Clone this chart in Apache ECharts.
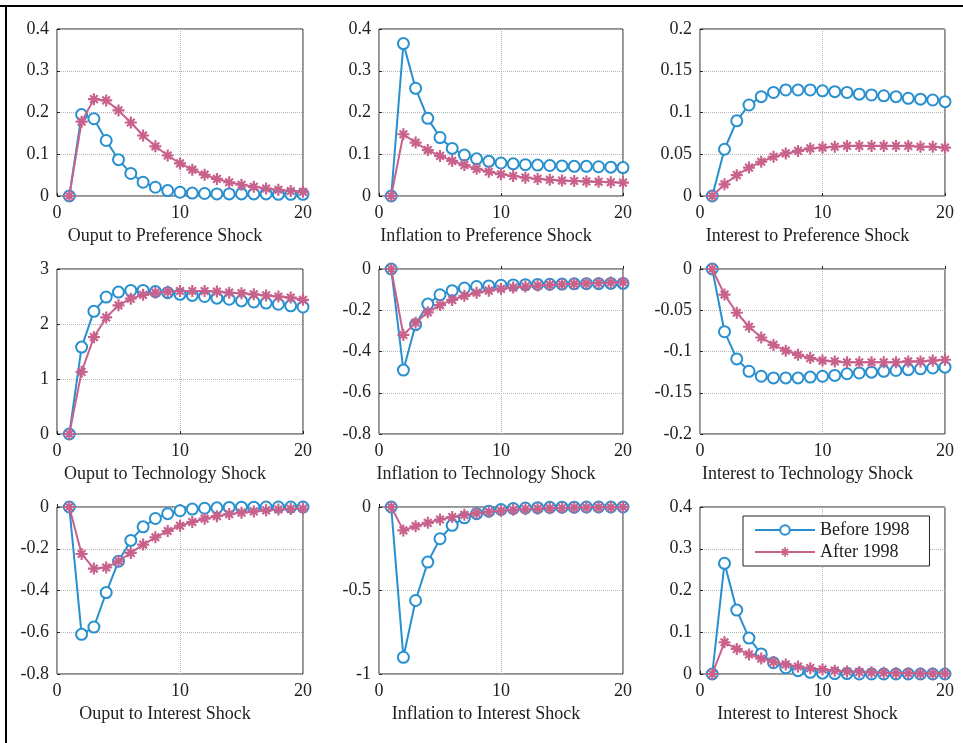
<!DOCTYPE html>
<html>
<head>
<meta charset="utf-8">
<script src="https://cdn.jsdelivr.net/npm/echarts@6/dist/echarts.min.js"></script>
<style>
  html, body { margin: 0; padding: 0; background: #fff; }
  #main { width: 963px; height: 743px; }
</style>
</head>
<body>
<div id="main"></div>
<script>
// horizon 1..20
var steps = [1,2,3,4,5,6,7,8,9,10,11,12,13,14,15,16,17,18,19,20];

// Before 1998 (blue circles)
var outPrefBefore  = [0,0.195,0.185,0.133,0.087,0.054,0.033,0.021,0.013,0.009,0.007,0.006,0.005,0.005,0.005,0.005,0.005,0.004,0.004,0.004];
var inflPrefBefore = [0,0.365,0.258,0.186,0.140,0.114,0.098,0.089,0.083,0.079,0.077,0.075,0.074,0.073,0.072,0.071,0.071,0.070,0.069,0.068];
var intPrefBefore  = [0,0.056,0.090,0.109,0.119,0.124,0.127,0.127,0.127,0.126,0.125,0.124,0.122,0.121,0.120,0.119,0.117,0.116,0.115,0.113];
var outTechBefore  = [0,1.58,2.23,2.49,2.58,2.61,2.61,2.59,2.57,2.54,2.52,2.50,2.47,2.45,2.42,2.40,2.38,2.36,2.33,2.31];
var inflTechBefore = [0,-0.49,-0.27,-0.17,-0.125,-0.105,-0.092,-0.085,-0.082,-0.079,-0.077,-0.076,-0.075,-0.074,-0.073,-0.072,-0.071,-0.071,-0.070,-0.070];
var intTechBefore  = [0,-0.076,-0.109,-0.124,-0.130,-0.132,-0.132,-0.132,-0.131,-0.130,-0.129,-0.127,-0.126,-0.125,-0.124,-0.123,-0.122,-0.121,-0.120,-0.119];
var outIntBefore   = [0,-0.61,-0.575,-0.41,-0.26,-0.16,-0.095,-0.055,-0.032,-0.018,-0.010,-0.006,-0.004,-0.002,-0.001,-0.001,0,0,0,0];
var inflIntBefore  = [0,-0.90,-0.56,-0.33,-0.19,-0.11,-0.065,-0.040,-0.025,-0.015,-0.009,-0.006,-0.004,-0.002,-0.001,-0.001,0,0,0,0];
var intIntBefore   = [0,0.265,0.153,0.086,0.048,0.027,0.015,0.008,0.004,0.002,0.001,0.001,0,0,0,0,0,0,0,0];

// After 1998 (pink asterisks)
var outPrefAfter  = [0,0.178,0.232,0.229,0.205,0.176,0.145,0.119,0.097,0.078,0.063,0.051,0.041,0.033,0.027,0.022,0.018,0.015,0.012,0.010];
var inflPrefAfter = [0,0.148,0.128,0.110,0.096,0.084,0.074,0.065,0.058,0.052,0.048,0.044,0.041,0.039,0.037,0.036,0.035,0.034,0.033,0.032];
var intPrefAfter  = [0,0.014,0.025,0.034,0.041,0.047,0.051,0.054,0.057,0.058,0.059,0.060,0.060,0.060,0.060,0.060,0.060,0.059,0.059,0.058];
var outTechAfter  = [0,1.13,1.76,2.12,2.34,2.46,2.53,2.57,2.59,2.60,2.60,2.60,2.59,2.57,2.56,2.54,2.52,2.50,2.48,2.44];
var inflTechAfter = [0,-0.32,-0.26,-0.21,-0.175,-0.15,-0.13,-0.115,-0.105,-0.096,-0.090,-0.085,-0.080,-0.077,-0.074,-0.072,-0.070,-0.068,-0.066,-0.065];
var intTechAfter  = [0,-0.031,-0.053,-0.070,-0.083,-0.092,-0.099,-0.104,-0.108,-0.111,-0.112,-0.113,-0.113,-0.113,-0.113,-0.113,-0.112,-0.112,-0.111,-0.110];
var outIntAfter   = [0,-0.225,-0.295,-0.29,-0.26,-0.22,-0.18,-0.145,-0.115,-0.090,-0.072,-0.056,-0.044,-0.034,-0.027,-0.021,-0.016,-0.012,-0.009,-0.007];
var inflIntAfter  = [0,-0.14,-0.115,-0.095,-0.075,-0.060,-0.047,-0.037,-0.029,-0.022,-0.017,-0.013,-0.010,-0.008,-0.006,-0.004,-0.003,-0.002,-0.002,-0.001];
var intIntAfter   = [0,0.076,0.060,0.047,0.037,0.029,0.023,0.018,0.014,0.011,0.008,0.006,0.005,0.004,0.003,0.002,0.002,0.001,0.001,0.001];

var panelTitles = [
  'Ouput to Preference Shock', 'Inflation to Preference Shock', 'Interest to Preference Shock',
  'Ouput to Technology Shock', 'Inflation to Technology Shock', 'Interest to Technology Shock',
  'Ouput to Interest Shock', 'Inflation to Interest Shock', 'Interest to Interest Shock'
];
var yMins = [0, 0, 0, 0, -0.8, -0.2, -0.8, -1, 0];
var yMaxs = [0.4, 0.4, 0.2, 3, 0, 0, 0, 0, 0.4];
var yIntervals = [0.1, 0.1, 0.05, 1, 0.2, 0.05, 0.2, 0.5, 0.1];
var xTicks = [0, 10, 20];

var beforeSets = [outPrefBefore, inflPrefBefore, intPrefBefore, outTechBefore, inflTechBefore, intTechBefore, outIntBefore, inflIntBefore, intIntBefore];
var afterSets  = [outPrefAfter, inflPrefAfter, intPrefAfter, outTechAfter, inflTechAfter, intTechAfter, outIntAfter, inflIntAfter, intIntAfter];

var BLUE = '#2990cf', PINK = '#c8618c';
var FONT = '"Liberation Serif", "Times New Roman", serif';
var colLeft = [57, 379, 700], colRight = [303, 623, 945];
var rowTop = [29, 269, 507], rowBottom = [196, 434, 674];

// asterisk marker (plus + cross)
var asterisk = 'path://M-0.9,-5L0.9,-5L0.9,5L-0.9,5Z' +
  'M-5,-0.9L5,-0.9L5,0.9L-5,0.9Z' +
  'M-3.82,-2.54L-2.54,-3.82L3.82,2.54L2.54,3.82Z' +
  'M2.54,-3.82L3.82,-2.54L-2.54,3.82L-3.82,2.54Z';

function pairs(vals) {
  return steps.map(function (s, i) { return [s, vals[i]]; });
}

var grids = [], xAxes = [], yAxes = [], series = [], graphics = [];
for (var k = 0; k < 9; k++) {
  var r = Math.floor(k / 3), c = k % 3;
  grids.push({
    left: colLeft[c], top: rowTop[r],
    width: colRight[c] - colLeft[c], height: rowBottom[r] - rowTop[r],
    show: true, borderColor: '#222', borderWidth: 1, backgroundColor: '#fff'
  });
  xAxes.push({
    type: 'value', gridIndex: k, min: xTicks[0], max: xTicks[2], interval: 10,
    axisLine: { show: false },
    axisTick: { show: true, inside: true, length: 3, lineStyle: { color: '#222' } },
    axisLabel: { color: '#222', fontFamily: FONT, fontSize: 18, margin: 8 },
    splitLine: { show: true, lineStyle: { color: '#b5b5b5', type: 'dotted', width: 1 } }
  });
  yAxes.push({
    type: 'value', gridIndex: k, min: yMins[k], max: yMaxs[k], interval: yIntervals[k],
    axisLine: { show: false },
    axisTick: { show: true, inside: true, length: 3, lineStyle: { color: '#222' } },
    axisLabel: { color: '#222', fontFamily: FONT, fontSize: 18, margin: 8 },
    splitLine: { show: true, lineStyle: { color: '#b5b5b5', type: 'dotted', width: 1 } }
  });
  series.push({
    name: 'Before 1998', type: 'line', xAxisIndex: k, yAxisIndex: k,
    data: pairs(beforeSets[k]),
    symbol: 'emptyCircle', symbolSize: 11,
    lineStyle: { color: BLUE, width: 2 },
    itemStyle: { color: BLUE, borderWidth: 2.5 },
    animation: false, z: 2
  });
  series.push({
    name: 'After 1998', type: 'line', xAxisIndex: k, yAxisIndex: k,
    data: pairs(afterSets[k]),
    symbol: asterisk, symbolSize: 12,
    lineStyle: { color: PINK, width: 2 },
    itemStyle: { color: PINK, borderWidth: 0 },
    animation: false, z: 3
  });
  graphics.push({
    type: 'text',
    x: (colLeft[c] + colRight[c]) / 2 - 15,
    y: rowBottom[r] + 40,
    style: { text: panelTitles[k], font: '18px ' + FONT, fill: '#222', textAlign: 'center', textVerticalAlign: 'middle' }
  });
}

// outer frame (left and top edges)
graphics.push({ type: 'line', shape: { x1: 0, y1: 6, x2: 963, y2: 6 }, style: { stroke: '#000', lineWidth: 2 } });
graphics.push({ type: 'line', shape: { x1: 6, y1: 6, x2: 6, y2: 743 }, style: { stroke: '#000', lineWidth: 2 } });

var chart = echarts.init(document.getElementById('main'), null, { renderer: 'canvas' });
chart.setOption({
  backgroundColor: '#fff',
  animation: false,
  grid: grids,
  xAxis: xAxes,
  yAxis: yAxes,
  series: series,
  graphic: graphics,
  legend: {
    data: ['Before 1998', 'After 1998'],
    orient: 'vertical',
    left: 743, top: 516,
    padding: [5, 20, 5, 11],
    itemWidth: 60, itemHeight: 12, itemGap: 4,
    borderColor: '#222', borderWidth: 1, backgroundColor: '#fff',
    textStyle: { color: '#222', fontFamily: FONT, fontSize: 18 },
    selectedMode: false
  }
});
</script>
</body>
</html>
